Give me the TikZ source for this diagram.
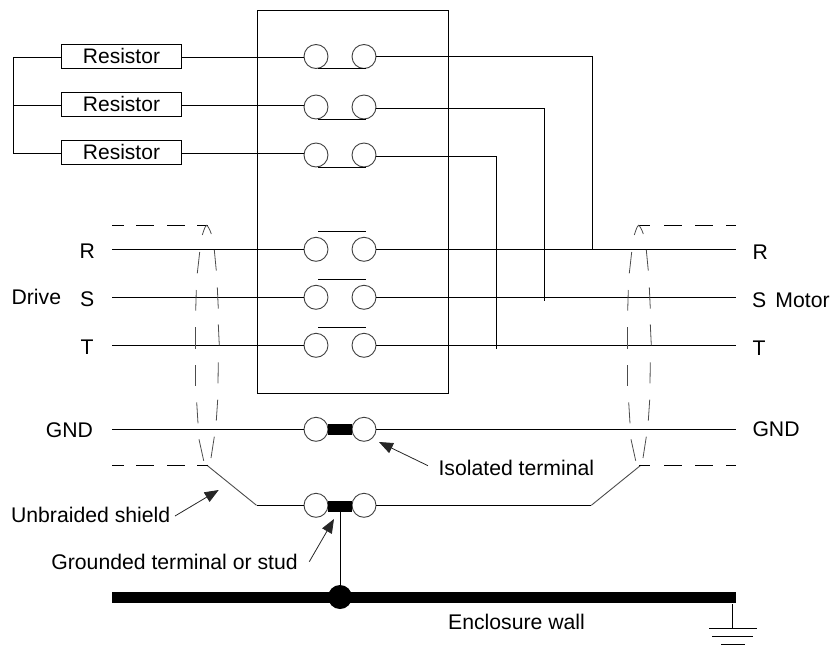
\documentclass[tikz,border=0pt]{standalone}
\usepackage{fontspec}
\setmainfont{Liberation Sans}
\usetikzlibrary{arrows.meta,calc}
\tikzset{
 wire/.style={line width=1pt,black},
 term/.style={circle,draw=black!75,line width=0.9pt,fill=white,minimum size=24pt,inner sep=0pt,outer sep=0pt},
 resbox/.style={rectangle,draw=black,line width=1pt,minimum width=120.4pt,minimum height=24pt,inner sep=0pt,font=\fontsize{21}{24}\selectfont},
 lab/.style={anchor=base west,inner sep=0pt,font=\fontsize{21.2}{24}\selectfont},
 shieldline/.style={line width=0.8pt,black!70},
 dashpart/.style={line width=1pt,black},
 callout/.style={line width=0.8pt,black!85,-{Triangle[length=14pt,width=11pt]}},
 strap/.style={rectangle,fill=black,minimum width=24pt,minimum height=11pt,inner sep=0pt},
 plate/.style={rectangle,fill=black,inner sep=0pt,minimum height=11pt}
}
\begin{document}
\begin{tikzpicture}[x=1pt,y=-1pt]
\useasboundingbox (0,0) rectangle (836,651);
% enclosure block
\node[draw=black,line width=1pt,minimum width=191pt,minimum height=383pt,inner sep=0pt] (block) at (352.5,201.5) {};
% resistors
\node[resbox] (r1) at (121.5,56.4) {\raisebox{-0.8pt}{Resistor}};
\node[resbox] (r2) at (121.5,104.4) {\raisebox{-0.8pt}{Resistor}};
\node[resbox] (r3) at (121.5,152.4) {\raisebox{-0.8pt}{Resistor}};
% terminals
\foreach \n/\y in {1/56.5,2/107,3/155,4/249.3,5/297.3,6/345.3,7/429.3,8/505.3}{
  \node[term] (a\n) at (316,\y) {};
  \node[term] (b\n) at (364,\y) {};
}
% straps
\node[strap] (s7) at (340,429.6) {};
\node[strap] (s8) at (340,506.3) {};
% left bus
\coordinate (busT) at (13.5,57.4);
\coordinate (busM) at (13.5,105.4);
\coordinate (busB) at (13.5,153.4);
\draw[wire] (r1.west |- busT) -- (busT) -- (busB) -- (r3.west |- busB);
\draw[wire] (busM) -- (r2.west |- busM);
% resistor to terminal
\draw[wire] (r1.east |- busT) -- (a1.west |- busT);
\draw[wire] (r2.east |- busM) -- (a2.west |- busM);
\draw[wire] (r3.east |- busB) -- (a3.west |- busB);
% bridges
\foreach \n/\y in {1/68.3,2/119,3/167,4/231,5/279,6/327}{
  \draw[wire] (318,\y) -- (366,\y);
}
% taps
\coordinate (t1) at (592.3,249.3);
\coordinate (t2) at (544.3,300.7);
\coordinate (t3) at (496.3,348.7);
\coordinate (e1) at (592.3,56.5);
\coordinate (e2) at (544.3,108);
\coordinate (e3) at (496.3,156);
\draw[wire] (b1.east) -- (e1) -- (t1);
\draw[wire] (b2.east |- e2) -- (e2) -- (t2);
\draw[wire] (b3.east |- e3) -- (e3) -- (t3);
% through wires
\foreach \n/\y in {4/249.3,5/297.3,6/345.3,7/429.3}{
  \coordinate (L\n) at (112,\y);
  \coordinate (R\n) at (735.7,\y);
  \draw[wire] (L\n) -- (a\n.west);
  \draw[wire] (b\n.east) -- (R\n);
}
% shield wire
\coordinate (sl) at (207,465.3);
\coordinate (sr) at (640.7,465.3);
\coordinate (kl) at (256.5,505.3);
\coordinate (kr) at (591.3,505.3);
\draw[shieldline,line width=0.9pt] (sl) -- (kl);
\draw[wire] (kl) -- (a8.west);
\draw[wire] (b8.east) -- (kr);
\draw[shieldline,line width=0.9pt] (kr) -- (sr);
% dashes
\foreach \y in {225.3,465.3}{
  \foreach \p/\q in {112/124,136/154,167/185,197/208,639/650,664/682,695/713,726/735.7}{
    \draw[dashpart] (\p,\y) -- (\q,\y);
  }
}
% shield ellipses
\foreach \d in {0,432}{
\begin{scope}[xshift=\d pt]
  \draw[shieldline] (202.3,235) .. controls (204,230) and (205,226) .. (206.7,225.3) .. controls (208,226) and (210,230) .. (211.3,234);
  \draw[shieldline] (199.7,252) -- (197.3,273.3);
  \draw[shieldline] (214.3,250) -- (216.3,270.7);
  \draw[shieldline] (196.3,290) -- (195.7,310.7);
  \draw[shieldline] (217.3,287.3) -- (218.3,308.7);
  \draw[shieldline] (195.3,327.3) -- (195.3,348.7);
  \draw[shieldline] (218.3,324.3) -- (219.3,345.3);
  \draw[shieldline] (195.3,365) -- (195.3,385.7);
  \draw[shieldline] (218.3,362.3) -- (218,383.3);
  \draw[shieldline] (196.7,402.3) -- (198,423.3);
  \draw[shieldline] (217.7,399.7) -- (216.3,420.7);
  \draw[shieldline] (199,439.3) -- (203.7,460.7);
  \draw[shieldline] (214.3,436.7) -- (211,458);
\end{scope}
}
% wall
\node[plate,minimum width=624pt] (wall) at (424,597.5) {};
\node[circle,fill=black,minimum size=24pt,inner sep=0pt] (dot) at (340,597) {};
\draw[wire] (s8.south) -- (dot.north);
% ground
\coordinate (g0) at (732.3,604);
\coordinate (g1) at (732.3,628);
\draw[wire] (g0) -- (g1);
\draw[wire] (709,628) -- (757,628);
\draw[wire] (712,636) -- (753,636);
\draw[wire] (721,644) -- (745,644);
% labels
\node[lab] (lR) at (79.5,258.3) {R};
\node[lab] (lDrive) at (11.4,304) {Drive};
\node[lab] (lS) at (80,306) {S};
\node[lab] (lT) at (80.5,354) {T};
\node[lab] (lGl) at (45.7,437) {GND};
\node[lab] (lRr) at (752.3,259) {R};
\node[lab] (lSr) at (752,307) {S\hspace{3.2pt} Motor};
\node[lab] (lTr) at (752.5,355) {T};
\node[lab] (lGr) at (752.3,436.7) {GND};
\node[lab] (lIso) at (438.4,475.5) {Isolated terminal};
\node[lab] (lUnb) at (10.9,522.3) {Unbraided shield};
\node[lab] (lGnd) at (51.2,569.2) {Grounded terminal or stud};
\node[lab] (lEnc) at (448,629) {Enclosure wall};
% callouts
\coordinate (c1a) at (428,465.7);
\coordinate (c1b) at (379,442);
\coordinate (c2a) at (175,516);
\coordinate (c2b) at (218.7,490);
\coordinate (c3a) at (309.3,561.7);
\coordinate (c3b) at (334,519);
\draw[callout] (c1a) -- (c1b);
\draw[callout] (c2a) -- (c2b);
\draw[callout] (c3a) -- (c3b);
\end{tikzpicture}
\end{document}
